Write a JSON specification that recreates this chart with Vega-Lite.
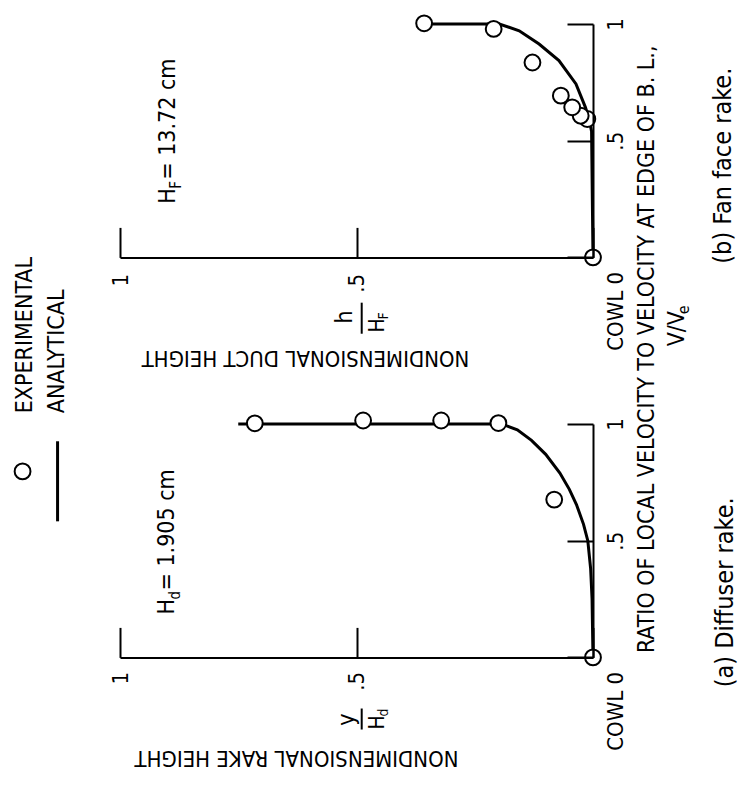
{
  "$schema": "https://vega.github.io/schema/vega-lite/v6.json",
  "background": "white",
  "padding": {"left": 10, "top": 11, "right": 5, "bottom": 5},
  "spacing": 166,
  "bounds": "flush",
  "config": {
    "view": {"stroke": null},
    "font": "Liberation Sans Narrow, DejaVu Sans Condensed, Arial Narrow, sans-serif",
    "text": {"font": "Liberation Sans Narrow, DejaVu Sans Condensed, Arial Narrow, sans-serif", "color": "black", "fontSize": 23},
    "axis": {"grid": false}
  },
  "datasets": {
    "expB": [
      {"h": 0, "v": 0}, {"h": 0.012, "v": 0.593}, {"h": 0.026, "v": 0.607}, {"h": 0.044, "v": 0.643},
      {"h": 0.068, "v": 0.693}, {"h": 0.128, "v": 0.835}, {"h": 0.21, "v": 0.979}, {"h": 0.357, "v": 1.003}
    ],
    "anaB": [
      {"h": 0, "v": 0}, {"h": 0.003, "v": 0.54}, {"h": 0.008, "v": 0.59}, {"h": 0.016, "v": 0.643},
      {"h": 0.036, "v": 0.743}, {"h": 0.072, "v": 0.843}, {"h": 0.114, "v": 0.914}, {"h": 0.156, "v": 0.971},
      {"h": 0.198, "v": 1.0}, {"h": 0.36, "v": 1.0}
    ],
    "expA": [
      {"h": 0, "v": 0}, {"h": 0.082, "v": 0.676}, {"h": 0.2, "v": 1.004}, {"h": 0.321, "v": 1.015},
      {"h": 0.486, "v": 1.015}, {"h": 0.715, "v": 1.003}
    ],
    "anaA": [
      {"h": 0, "v": 0}, {"h": 0.002, "v": 0.25}, {"h": 0.005, "v": 0.38}, {"h": 0.011, "v": 0.5},
      {"h": 0.02, "v": 0.57}, {"h": 0.035, "v": 0.655}, {"h": 0.05, "v": 0.72}, {"h": 0.07, "v": 0.79},
      {"h": 0.1, "v": 0.87}, {"h": 0.13, "v": 0.93}, {"h": 0.16, "v": 0.975}, {"h": 0.19, "v": 0.998},
      {"h": 0.22, "v": 1.0}, {"h": 0.75, "v": 1.0}
    ]
  },
  "vconcat": [
    {
      "width": 473,
      "height": 233.4,
      "layer": [
        {
          "data": {"name": "anaB"},
          "mark": {"type": "line", "color": "black", "strokeWidth": 3},
          "encoding": {
            "x": {"field": "h", "type": "quantitative", "scale": {"domain": [0, 1], "reverse": true, "nice": false},
              "axis": {"orient": "bottom", "values": [0, 0.5, 1], "labelExpr": "datum.value == 1 ? '1' : datum.value == 0.5 ? '.5' : ''",
                "labelAngle": -90, "labelAlign": "right", "labelBaseline": "middle", "labelFontSize": 22, "labelPadding": 46,
                "labelFont": "Liberation Sans Narrow, DejaVu Sans Condensed, sans-serif", "labelColor": "black",
                "labelFlush": false, "labelOverlap": false, "tickSize": -30, "tickWidth": 2, "tickColor": "black",
                "domainColor": "black", "domainWidth": 2, "zindex": 1,
                "title": "NONDIMENSIONAL DUCT HEIGHT", "titleAngle": 180, "titleX": 185, "titleY": 100,
                "titleAlign": "center", "titleBaseline": "middle", "titleFontSize": 22, "titleFontWeight": "normal",
                "titleFont": "Liberation Sans Narrow, DejaVu Sans Condensed, sans-serif", "titleColor": "black"}},
            "y": {"field": "v", "type": "quantitative", "scale": {"domain": [0, 1], "nice": false},
              "axis": {"orient": "right", "values": [0, 0.5, 1], "labelExpr": "datum.value == 0 ? 'COWL 0' : datum.value == 1 ? '1' : '.5'",
                "labelAngle": -90,
                "labelAlign": {"condition": {"test": "datum.value == 0", "value": "right"}, "value": "center"},
                "labelOffset": {"condition": {"test": "datum.value == 0", "value": 14}, "value": 0},
                "labelBaseline": "middle", "labelFontSize": 22, "labelPadding": 48,
                "labelFont": "Liberation Sans Narrow, DejaVu Sans Condensed, sans-serif", "labelColor": "black",
                "labelFlush": false, "labelOverlap": false, "tickSize": -26, "tickWidth": 2, "tickColor": "black",
                "domainColor": "black", "domainWidth": 2, "zindex": 1, "title": null}}
          }
        },
        {
          "data": {"name": "expB"},
          "mark": {"type": "point", "shape": "circle", "filled": true, "fill": "white", "stroke": "black", "strokeWidth": 2, "size": 250, "opacity": 1},
          "encoding": {"x": {"field": "h", "type": "quantitative"}, "y": {"field": "v", "type": "quantitative"}}
        },
        {
          "data": {"values": [{}]},
          "mark": {"type": "text", "text": "H", "angle": -90, "align": "left", "baseline": "alphabetic", "fontSize": 23},
          "encoding": {"x": {"datum": 0.884, "type": "quantitative"}, "y": {"datum": 0.23, "type": "quantitative"}}
        },
        {
          "data": {"values": [{}]},
          "mark": {"type": "text", "text": "F", "angle": -90, "align": "left", "baseline": "alphabetic", "fontSize": 15, "dx": 15, "dy": 6},
          "encoding": {"x": {"datum": 0.884, "type": "quantitative"}, "y": {"datum": 0.23, "type": "quantitative"}}
        },
        {
          "data": {"values": [{}]},
          "mark": {"type": "text", "text": " = 13.72 cm", "angle": -90, "align": "left", "baseline": "alphabetic", "fontSize": 23, "dx": 24},
          "encoding": {"x": {"datum": 0.884, "type": "quantitative"}, "y": {"datum": 0.23, "type": "quantitative"}}
        },
        {
          "data": {"values": [{}]},
          "mark": {"type": "text", "text": "h", "angle": -90, "align": "right", "baseline": "middle", "fontSize": 23, "dx": -53, "dy": -12},
          "encoding": {"x": {"datum": 0.5, "type": "quantitative"}, "y": {"datum": 0, "type": "quantitative"}}
        },
        {
          "data": {"values": [{}]},
          "mark": {"type": "rule", "color": "black", "strokeWidth": 2},
          "encoding": {"x": {"datum": 0.489, "type": "quantitative"}, "y": {"datum": -0.194, "type": "quantitative"}, "y2": {"datum": -0.327}}
        },
        {
          "data": {"values": [{}]},
          "mark": {"type": "text", "text": "H", "angle": -90, "align": "left", "baseline": "middle", "fontSize": 21, "dx": -75, "dy": 21},
          "encoding": {"x": {"datum": 0.5, "type": "quantitative"}, "y": {"datum": 0, "type": "quantitative"}}
        },
        {
          "data": {"values": [{}]},
          "mark": {"type": "text", "text": "F", "angle": -90, "align": "left", "baseline": "middle", "fontSize": 14, "dx": -62, "dy": 27},
          "encoding": {"x": {"datum": 0.5, "type": "quantitative"}, "y": {"datum": 0, "type": "quantitative"}}
        },
        {
          "data": {"values": [{}]},
          "mark": {"type": "text", "text": "(b) Fan face rake.", "angle": -90, "align": "center", "baseline": "middle", "fontSize": 25},
          "encoding": {"x": {"datum": -0.275, "type": "quantitative"}, "y": {"datum": 0.393, "type": "quantitative"}}
        }
      ]
    },
    {
      "width": 473,
      "height": 233.4,
      "layer": [
        {
          "data": {"name": "anaA"},
          "mark": {"type": "line", "color": "black", "strokeWidth": 3},
          "encoding": {
            "x": {"field": "h", "type": "quantitative", "scale": {"domain": [0, 1], "reverse": true, "nice": false},
              "axis": {"orient": "bottom", "values": [0, 0.5, 1], "labelExpr": "datum.value == 1 ? '1' : datum.value == 0.5 ? '.5' : ''",
                "labelAngle": -90, "labelAlign": "right", "labelBaseline": "middle", "labelFontSize": 22, "labelPadding": 44,
                "labelFont": "Liberation Sans Narrow, DejaVu Sans Condensed, sans-serif", "labelColor": "black",
                "labelFlush": false, "labelOverlap": false, "tickSize": -30, "tickWidth": 2, "tickColor": "black",
                "domainColor": "black", "domainWidth": 2, "zindex": 1,
                "title": "NONDIMENSIONAL RAKE HEIGHT", "titleAngle": 180, "titleX": 176, "titleY": 100,
                "titleAlign": "center", "titleBaseline": "middle", "titleFontSize": 22, "titleFontWeight": "normal",
                "titleFont": "Liberation Sans Narrow, DejaVu Sans Condensed, sans-serif", "titleColor": "black"}},
            "y": {"field": "v", "type": "quantitative", "scale": {"domain": [0, 1], "nice": false},
              "axis": {"orient": "right", "values": [0, 0.5, 1], "labelExpr": "datum.value == 0 ? 'COWL 0' : datum.value == 1 ? '1' : '.5'",
                "labelAngle": -90,
                "labelAlign": {"condition": {"test": "datum.value == 0", "value": "right"}, "value": "center"},
                "labelOffset": {"condition": {"test": "datum.value == 0", "value": 14}, "value": 0},
                "labelBaseline": "middle", "labelFontSize": 22, "labelPadding": 48,
                "labelFont": "Liberation Sans Narrow, DejaVu Sans Condensed, sans-serif", "labelColor": "black",
                "labelFlush": false, "labelOverlap": false, "tickSize": -26, "tickWidth": 2, "tickColor": "black",
                "domainColor": "black", "domainWidth": 2, "zindex": 1, "title": null}}
          }
        },
        {
          "data": {"name": "expA"},
          "mark": {"type": "point", "shape": "circle", "filled": true, "fill": "white", "stroke": "black", "strokeWidth": 2, "size": 250, "opacity": 1},
          "encoding": {"x": {"field": "h", "type": "quantitative"}, "y": {"field": "v", "type": "quantitative"}}
        },
        {
          "data": {"values": [{}]},
          "mark": {"type": "text", "text": "H", "angle": -90, "align": "left", "baseline": "alphabetic", "fontSize": 23},
          "encoding": {"x": {"datum": 0.885, "type": "quantitative"}, "y": {"datum": 0.184, "type": "quantitative"}}
        },
        {
          "data": {"values": [{}]},
          "mark": {"type": "text", "text": "d", "angle": -90, "align": "left", "baseline": "alphabetic", "fontSize": 15, "dx": 15, "dy": 6},
          "encoding": {"x": {"datum": 0.885, "type": "quantitative"}, "y": {"datum": 0.184, "type": "quantitative"}}
        },
        {
          "data": {"values": [{}]},
          "mark": {"type": "text", "text": " = 1.905 cm", "angle": -90, "align": "left", "baseline": "alphabetic", "fontSize": 23, "dx": 24},
          "encoding": {"x": {"datum": 0.885, "type": "quantitative"}, "y": {"datum": 0.184, "type": "quantitative"}}
        },
        {
          "data": {"values": [{}]},
          "mark": {"type": "text", "text": "y", "angle": -90, "align": "right", "baseline": "middle", "fontSize": 23, "dx": -56, "dy": -10},
          "encoding": {"x": {"datum": 0.5, "type": "quantitative"}, "y": {"datum": 0, "type": "quantitative"}}
        },
        {
          "data": {"values": [{}]},
          "mark": {"type": "rule", "color": "black", "strokeWidth": 2},
          "encoding": {"x": {"datum": 0.489, "type": "quantitative"}, "y": {"datum": -0.219, "type": "quantitative"}, "y2": {"datum": -0.309}}
        },
        {
          "data": {"values": [{}]},
          "mark": {"type": "text", "text": "H", "angle": -90, "align": "left", "baseline": "middle", "fontSize": 21, "dx": -72, "dy": 21},
          "encoding": {"x": {"datum": 0.5, "type": "quantitative"}, "y": {"datum": 0, "type": "quantitative"}}
        },
        {
          "data": {"values": [{}]},
          "mark": {"type": "text", "text": "d", "angle": -90, "align": "left", "baseline": "middle", "fontSize": 14, "dx": -59, "dy": 27},
          "encoding": {"x": {"datum": 0.5, "type": "quantitative"}, "y": {"datum": 0, "type": "quantitative"}}
        },
        {
          "data": {"values": [{}]},
          "mark": {"type": "point", "shape": "circle", "filled": true, "fill": "white", "stroke": "black", "strokeWidth": 2, "size": 250, "opacity": 1},
          "encoding": {"x": {"datum": 1.206, "type": "quantitative"}, "y": {"datum": 0.797, "type": "quantitative"}}
        },
        {
          "data": {"values": [{}]},
          "mark": {"type": "rule", "color": "black", "strokeWidth": 3},
          "encoding": {"x": {"datum": 1.132, "type": "quantitative"}, "y": {"datum": 0.926, "type": "quantitative"}, "y2": {"datum": 0.583}}
        },
        {
          "data": {"values": [{}]},
          "mark": {"type": "text", "text": "EXPERIMENTAL", "angle": -90, "align": "left", "baseline": "alphabetic", "fontSize": 23},
          "encoding": {"x": {"datum": 1.186, "type": "quantitative"}, "y": {"datum": 1.046, "type": "quantitative"}}
        },
        {
          "data": {"values": [{}]},
          "mark": {"type": "text", "text": "ANALYTICAL", "angle": -90, "align": "left", "baseline": "alphabetic", "fontSize": 23},
          "encoding": {"x": {"datum": 1.118, "type": "quantitative"}, "y": {"datum": 1.046, "type": "quantitative"}}
        },
        {
          "data": {"values": [{}]},
          "mark": {"type": "text", "text": "RATIO OF LOCAL VELOCITY TO VELOCITY AT EDGE OF B. L.,", "angle": -90, "align": "center", "baseline": "middle", "fontSize": 23},
          "encoding": {"x": {"datum": -0.115, "type": "quantitative"}, "y": {"datum": 1.32, "type": "quantitative"}}
        },
        {
          "data": {"values": [{}]},
          "mark": {"type": "text", "text": "V/V", "angle": -90, "align": "left", "baseline": "middle", "fontSize": 23},
          "encoding": {"x": {"datum": -0.178, "type": "quantitative"}, "y": {"datum": 1.333, "type": "quantitative"}}
        },
        {
          "data": {"values": [{}]},
          "mark": {"type": "text", "text": "e", "angle": -90, "align": "left", "baseline": "middle", "fontSize": 16, "dx": 32, "dy": 7},
          "encoding": {"x": {"datum": -0.178, "type": "quantitative"}, "y": {"datum": 1.333, "type": "quantitative"}}
        },
        {
          "data": {"values": [{}]},
          "mark": {"type": "text", "text": "(a) Diffuser rake.", "angle": -90, "align": "center", "baseline": "middle", "fontSize": 25},
          "encoding": {"x": {"datum": -0.279, "type": "quantitative"}, "y": {"datum": 0.279, "type": "quantitative"}}
        }
      ]
    }
  ]
}
